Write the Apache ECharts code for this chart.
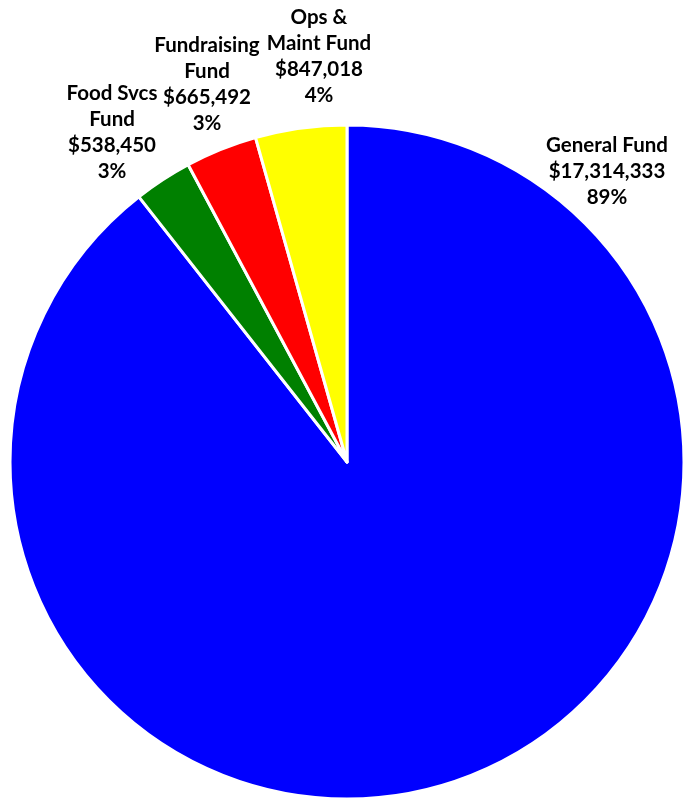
<!DOCTYPE html>
<html>
<head>
<meta charset="utf-8">
<script src="https://cdn.jsdelivr.net/npm/echarts@6/dist/echarts.min.js"></script>
<style>
  html, body { margin: 0; padding: 0; background: #fff; }
  #chart { width: 684px; height: 799px; }
</style>
</head>
<body>
<div id="chart"></div>
<script>
// Fund names (line breaks as shown in the labels) and amounts in dollars
const fundNames = ['General Fund', 'Food Svcs\nFund', 'Fundraising\nFund', 'Ops &\nMaint Fund'];
const fundValues = [17314333, 538450, 665492, 847018];
const fundColors = ['#0000FF', '#008000', '#FF0000', '#FFFF00'];

// Label anchor points (centre of each text block)
const labelSpots = [[607, 171], [112, 132], [207, 84], [319, 56]];

const chart = echarts.init(document.getElementById('chart'));

function money(v) {
  return '$' + v.toLocaleString('en-US');
}

chart.setOption({
  animation: false,
  series: [{
    type: 'pie',
    center: [347, 462],
    radius: [0, 337],
    startAngle: 90,
    clockwise: true,
    avoidLabelOverlap: false,
    data: fundNames.map((n, i) => ({
      name: n,
      value: fundValues[i],
      itemStyle: { color: fundColors[i] }
    })),
    itemStyle: { borderColor: '#ffffff', borderWidth: 3 },
    label: {
      show: true,
      position: 'outside',
      formatter: p => p.name + '\n' + money(p.value) + '\n' + Math.round(p.percent) + '%',
      fontFamily: 'Lato',
      fontWeight: 'bold',
      fontSize: 20.5,
      lineHeight: 26,
      color: '#000',
      align: 'center'
    },
    labelLine: { show: false },
    labelLayout: p => ({
      x: labelSpots[p.dataIndex][0],
      y: labelSpots[p.dataIndex][1],
      align: 'center',
      verticalAlign: 'middle'
    }),
    emphasis: { disabled: true }
  }]
});
</script>
</body>
</html>
